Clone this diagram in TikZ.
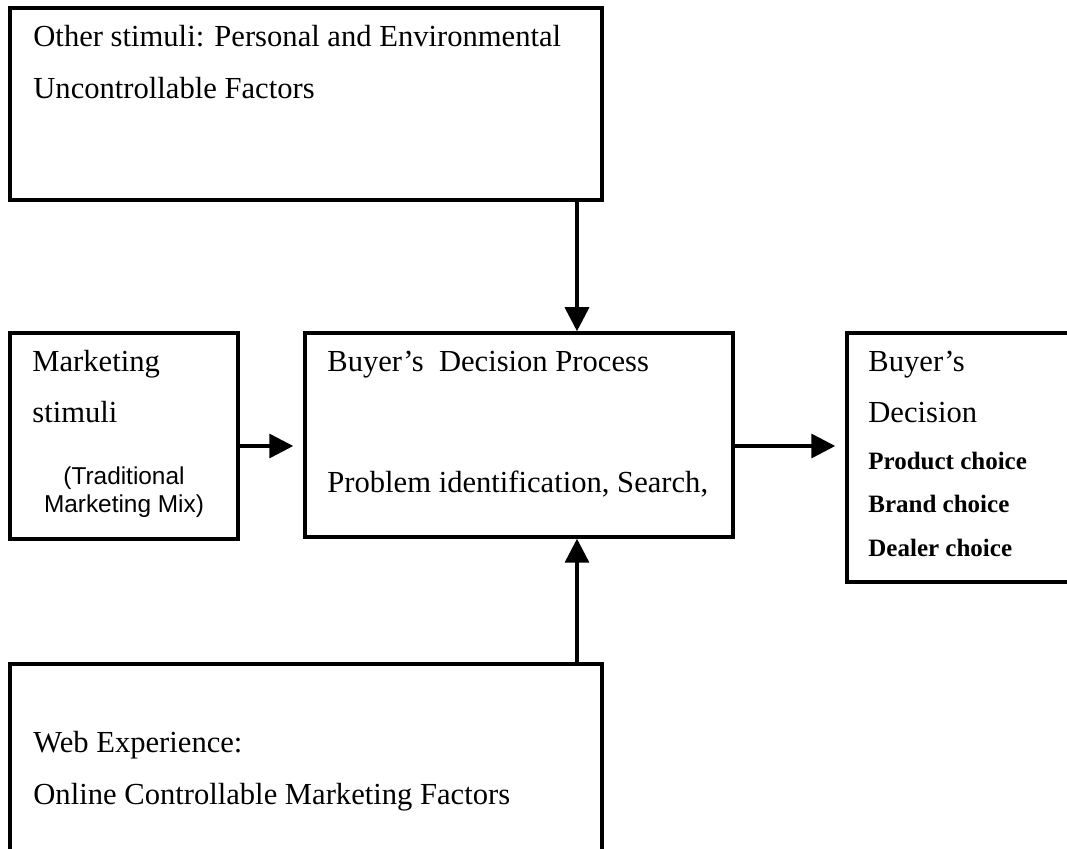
\documentclass[tikz,border=0pt]{standalone}
\usepackage{fontspec}
\setmainfont{Liberation Serif}
\setsansfont{Liberation Sans}
\usetikzlibrary{arrows.meta,fit}
\tikzset{
        % boxes are fitted to their two corners (pixels of the figure)
        boxframe/.style={draw, line width=1.75, inner sep=0pt, fit={#1}},
        % plain text lines, placed at their baseline
        line txt/.style={anchor=base west, inner sep=0pt, font=\fontsize{15.3}{18}\selectfont},
        choice txt/.style={anchor=base west, inner sep=0pt, font=\fontsize{12.5}{15}\selectfont\bfseries},
        mix txt/.style={anchor=base, inner sep=0pt, font=\sffamily\fontsize{12.2}{14}\selectfont},
        flow/.style={line width=1.75, -{Triangle[width=12pt,length=12pt]}},
    }
\begin{document}
\begin{tikzpicture}[x=0.5pt,y=0.5pt,yscale=-1]
\clip (0,0) rectangle (1067,849); %page of 1067 x 849

%Shape: Rectangle [other stimuli]
\node [boxframe={(10,8) (602,200)}] (other) {};
%Shape: Rectangle [marketing stimuli]
\node [boxframe={(10,333) (238,539)}] (mkt) {};
%Shape: Rectangle [decision process]
\node [boxframe={(305,333) (733,537)}] (process) {};
%Shape: Rectangle [decision, runs past the right edge]
\node [boxframe={(847,333) (1090,582)}] (choice) {};
%Shape: Rectangle [web experience, runs past the bottom edge]
\node [boxframe={(10,664) (602,880)}] (web) {};

%Straight Lines
\coordinate (vline) at (577,0);
\coordinate (hline) at (0,446);
\draw [flow] (other.south -| vline) -- (process.north -| vline);
\draw [flow] (web.north -| vline) -- (process.south -| vline);
\draw [flow, shorten >=5pt] (mkt.east |- hline) -- (process.west |- hline);
\draw [flow, shorten >=5pt] (process.east |- hline) -- (choice.west |- hline);

% Text Node
\node [line txt] (othera) at (33,47) {Other stimuli: Personal and Environmental};
% Text Node
\node [line txt] (otherb) at (33,99) {Uncontrollable Factors};
% Text Node
\node [line txt] (mkta) at (32,372) {Marketing};
% Text Node
\node [line txt] (mktb) at (32,423) {stimuli};
% Text Node
\node [mix txt] (mixa) at (124,485) {(Traditional};
% Text Node
\node [mix txt] (mixb) at (124,513) {Marketing Mix)};
% Text Node
\node [line txt] (processa) at (327,372) {Buyer’s\ \ Decision Process};
% Text Node
\node [line txt] (processb) at (327,493) {Problem identification, Search,};
% Text Node
\node [line txt] (choicea) at (868,372) {Buyer’s};
% Text Node
\node [line txt] (choiceb) at (868,423) {Decision};
% Text Node
\node [choice txt] (choicec) at (868,470) {Product choice};
% Text Node
\node [choice txt] (choiced) at (868,513) {Brand choice};
% Text Node
\node [choice txt] (choicee) at (868,557) {Dealer choice};
% Text Node
\node [line txt] (weba) at (33,753) {Web Experience:};
% Text Node
\node [line txt] (webb) at (33,805) {Online Controllable Marketing Factors};

\end{tikzpicture}
\end{document}
